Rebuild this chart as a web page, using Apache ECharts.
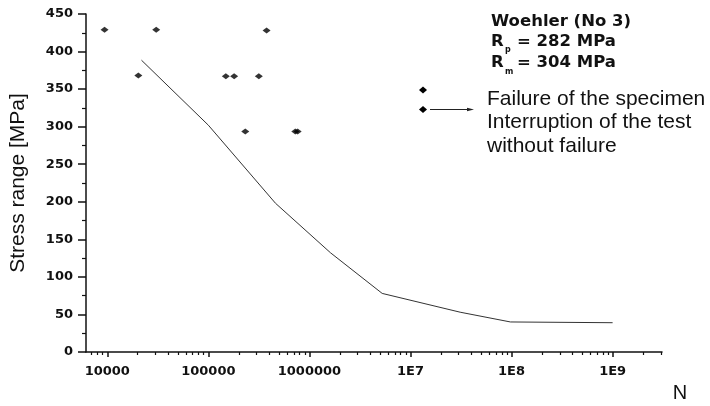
<!DOCTYPE html>
<html>
<head>
<meta charset="utf-8">
<script src="https://cdn.jsdelivr.net/npm/echarts@6/dist/echarts.min.js"></script>
<style>
html,body{margin:0;padding:0;background:#fff;}
#c{width:710px;height:406px;}
</style>
</head>
<body>
<div id="c"></div>
<script>
// ---- data ----
const failureN      = [9400, 30500, 377000, 20300, 149000, 180000, 316000, 232000, 725000, 765000];
const failureStress = [429, 429, 428, 368, 367, 367, 367, 293.5, 293.5, 293.5];
const curveN      = [21800, 100000, 462000, 1620000, 5250000, 31000000, 97500000, 1000000000];
const curveStress = [388.5, 302, 198, 132, 78, 53, 40, 39];
const xMajorTicks = [1e4, 1e5, 1e6, 1e7, 1e8, 1e9];
const xTickLabels = ['10000', '100000', '1000000', '1E7', '1E8', '1E9'];
const xMinorMult  = [2, 3, 4, 5, 6, 7, 8, 9];
const yTicks = [0, 50, 100, 150, 200, 250, 300, 350, 400, 450];

const xMin = 6160, xMax = 3.08e9;
const xMinorTicks = [];
[1e3, 1e4, 1e5, 1e6, 1e7, 1e8, 1e9].forEach(d => xMinorMult.forEach(m => {
  const v = d * m; if (v >= xMin && v <= xMax) xMinorTicks.push(v);
}));

const tickFont = 'DejaVu Sans';
const boldFont = 'bold 15px "DejaVu Sans"';
const chart = echarts.init(document.getElementById('c'));
chart.setOption({
  animation: false,
  backgroundColor: '#fff',
  grid: { left: 86, right: 48, top: 14, bottom: 54, containLabel: false, outerBoundsMode: 'none' },
  xAxis: [{
    type: 'log', logBase: 10, min: xMin, max: xMax, position: 'bottom',
    axisLine: { lineStyle: { color: '#111', width: 1.5 } },
    axisTick: { customValues: xMajorTicks, length: 5, lineStyle: { color: '#111', width: 1.5 } },
    axisLabel: {
      customValues: xMajorTicks, margin: 13,
      color: '#111', fontFamily: tickFont, fontWeight: 'bold', fontSize: 13,
      formatter: v => { const i = xMajorTicks.findIndex(t => Math.abs(Math.log10(t) - Math.log10(v)) < 1e-6); return i >= 0 ? xTickLabels[i] : ''; }
    },
    splitLine: { show: false }
  }, {
    type: 'log', logBase: 10, min: xMin, max: xMax, position: 'bottom',
    axisLine: { show: false },
    axisTick: { customValues: xMinorTicks, length: 3, lineStyle: { color: '#111', width: 1.2 } },
    axisLabel: { show: false },
    splitLine: { show: false }
  }],
  yAxis: {
    type: 'value', min: 0, max: 450, interval: 50,
    name: 'Stress range [MPa]', nameLocation: 'middle', nameGap: 57,
    nameTextStyle: { fontFamily: 'Liberation Sans', fontSize: 21, color: '#111' },
    axisLine: { show: true, lineStyle: { color: '#111', width: 1.5 } },
    axisTick: { show: true, length: 8, lineStyle: { color: '#111', width: 1.5 } },
    minorTick: { show: true, splitNumber: 2, length: 4, lineStyle: { color: '#111', width: 1.2 } },
    axisLabel: { margin: 13, color: '#111', fontFamily: tickFont, fontWeight: 'bold', fontSize: 13,
      formatter: v => yTicks.includes(v) ? String(v) : '' },
    splitLine: { show: false }
  },
  series: [{
    type: 'line', xAxisIndex: 0,
    data: curveN.map((n, i) => [n, curveStress[i]]),
    symbol: 'none', lineStyle: { color: '#333', width: 1 }, z: 2
  }, {
    type: 'scatter', xAxisIndex: 0,
    data: failureN.map((n, i) => [n, failureStress[i]]),
    symbol: 'diamond', symbolSize: [8, 6], itemStyle: { color: '#000' }, z: 3
  }],
  graphic: [
    { type: 'text', x: 491, y: 22, scaleX: 1.1, style: { text: 'Woehler (No 3)', font: boldFont, fill: '#111', textVerticalAlign: 'middle' } },
    { type: 'text', x: 491, y: 42, scaleX: 1.1, style: { text: 'R', font: boldFont, fill: '#111', textVerticalAlign: 'middle' } },
    { type: 'text', x: 505, y: 50, style: { text: 'p', font: 'bold 8px "DejaVu Sans"', fill: '#111', textVerticalAlign: 'middle' } },
    { type: 'text', x: 517, y: 42, scaleX: 1.1, style: { text: '= 282 MPa', font: boldFont, fill: '#111', textVerticalAlign: 'middle' } },
    { type: 'text', x: 491, y: 63, scaleX: 1.1, style: { text: 'R', font: boldFont, fill: '#111', textVerticalAlign: 'middle' } },
    { type: 'text', x: 505, y: 72, style: { text: 'm', font: 'bold 8px "DejaVu Sans"', fill: '#111', textVerticalAlign: 'middle' } },
    { type: 'text', x: 517, y: 63, scaleX: 1.1, style: { text: '= 304 MPa', font: boldFont, fill: '#111', textVerticalAlign: 'middle' } },
    { type: 'polygon', shape: { points: [[423, 86.5], [427, 90], [423, 93.5], [419, 90]] }, style: { fill: '#000' } },
    { type: 'polygon', shape: { points: [[423, 106], [427, 109.5], [423, 113], [419, 109.5]] }, style: { fill: '#000' } },
    { type: 'line', shape: { x1: 430, y1: 109.5, x2: 469, y2: 109.5 }, style: { stroke: '#222', lineWidth: 1 } },
    { type: 'polygon', shape: { points: [[474, 109.5], [467, 107.8], [467, 111.2]] }, style: { fill: '#222' } },
    { type: 'text', x: 487, y: 99, style: { text: 'Failure of the specimen', font: '21px "Liberation Sans"', fill: '#111', textVerticalAlign: 'middle' } },
    { type: 'text', x: 487, y: 122.5, style: { text: 'Interruption of the test', font: '21px "Liberation Sans"', fill: '#111', textVerticalAlign: 'middle' } },
    { type: 'text', x: 487, y: 146, style: { text: 'without failure', font: '21px "Liberation Sans"', fill: '#111', textVerticalAlign: 'middle' } },
    { type: 'text', x: 680, y: 393, style: { text: 'N', font: '20px "Liberation Sans"', fill: '#111', textAlign: 'center', textVerticalAlign: 'middle' } }
  ]
});
</script>
</body>
</html>
